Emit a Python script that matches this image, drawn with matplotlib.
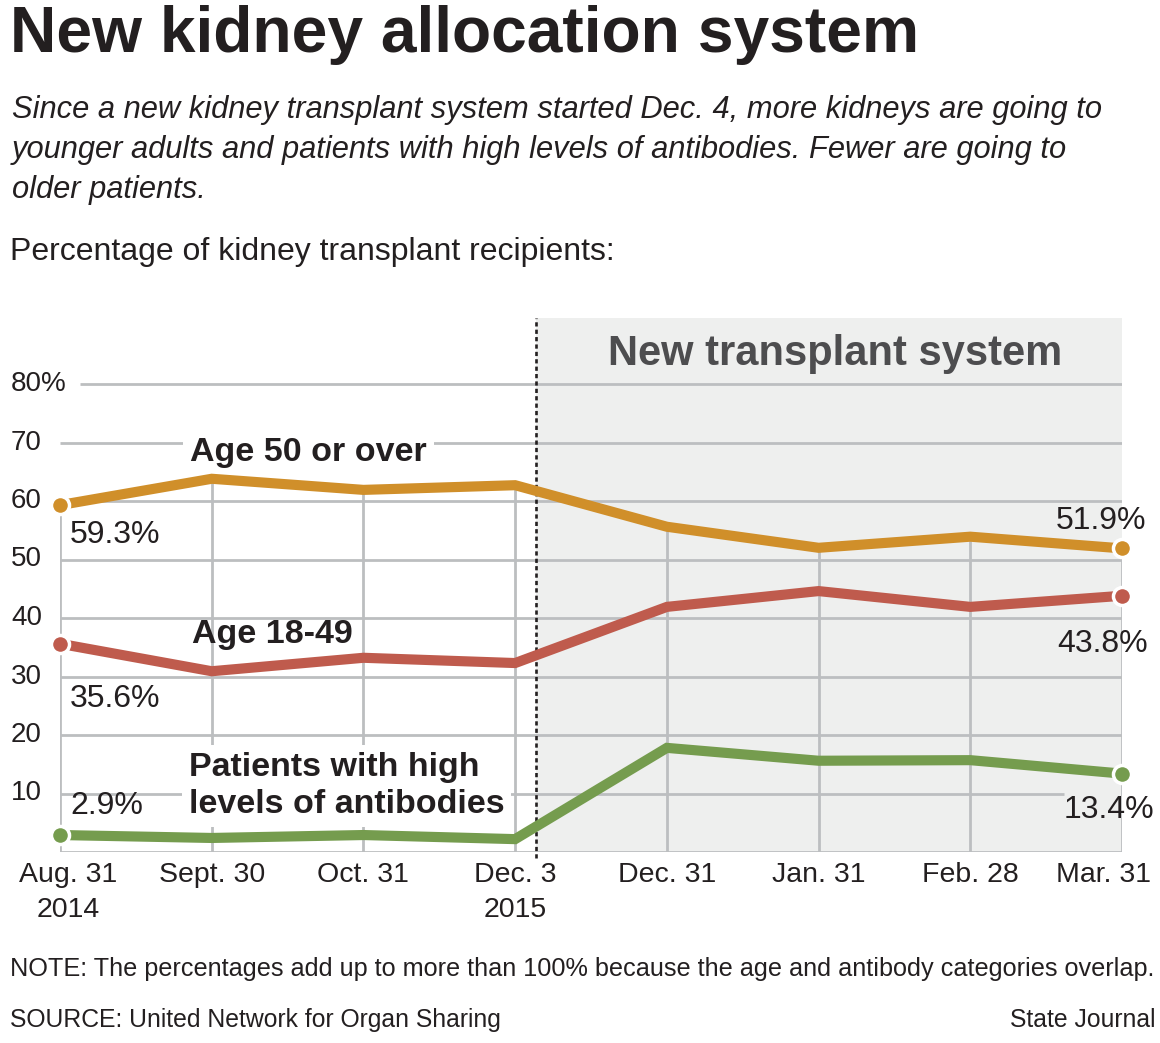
import matplotlib
matplotlib.use("Agg")
import matplotlib.pyplot as plt

W, H = 1160, 1043

# data
dates = ["Aug. 31\n2014", "Sept. 30", "Oct. 31", "Dec. 3\n2015",
         "Dec. 31", "Jan. 31", "Feb. 28", "Mar. 31"]
age_50_over = [59.3, 63.8, 61.9, 62.7, 55.6, 52.0, 53.9, 51.9]
age_18_49 = [35.6, 30.9, 33.2, 32.3, 41.9, 44.6, 41.9, 43.8]
antibodies = [2.9, 2.4, 2.9, 2.2, 17.8, 15.6, 15.7, 13.4]
y_ticks = [10, 20, 30, 40, 50, 60, 70, 80]
y_tick_labels = ["10", "20", "30", "40", "50", "60", "70", "80%"]

TEXT = "#231f20"
GRID = "#bcbec0"
SHADE = "#eeefee"
ORANGE = "#d08f2a"
RED = "#bf5b4d"
GREEN = "#759c4e"
FONT = ["Liberation Sans", "DejaVu Sans"]

plt.rcParams["font.family"] = FONT

fig = plt.figure(figsize=(W / 100, H / 100), dpi=100)
renderer = fig.canvas.get_renderer()


def px(x, y):
    return x / W, 1 - y / H


def ftext(x, y, s, width=None, **kw):
    kw.setdefault("color", TEXT)
    kw.setdefault("va", "baseline")
    t = fig.text(*px(x, y), s, **kw)
    if width:
        bb = t.get_window_extent(renderer)
        t.set_fontsize(t.get_fontsize() * width / bb.width)
    return t


# header
ftext(10, 52, "New kidney allocation system", width=908, fontsize=44, fontweight="bold")
sub = ftext(12, 118, "Since a new kidney transplant system started Dec. 4, more kidneys are going to",
            width=1094, fontsize=24, style="italic")
fs = sub.get_fontsize()
ftext(12, 158, "younger adults and patients with high levels of antibodies. Fewer are going to",
      fontsize=fs, style="italic")
ftext(12, 198, "older patients.", fontsize=fs, style="italic")
ftext(10, 260, "Percentage of kidney transplant recipients:", width=606, fontsize=24)

# plot area: x 0..7 -> px 60..1122, y 0..80 -> px 852..384
top_px, base_px = 318, 852
unit = (852 - 384) / 80
ax = fig.add_axes([60 / W, 1 - base_px / H, (1122 - 60) / W, (base_px - top_px) / H])
ax.set_xlim(0, 7)
ax.set_ylim(0, (base_px - top_px) / unit)
for s in ax.spines.values():
    s.set_visible(False)
ax.patch.set_alpha(0)

split = 3.14  # where the new system starts on the drawing
ax.axvspan(split, 7, color=SHADE, lw=0, zorder=0)
ax.axvline(split, ymin=-0.012, ymax=1, color=TEXT, lw=1.9,
           linestyle=(0, (1.6, 1.2)), zorder=2, clip_on=False)

x = range(len(dates))
grid_start = {80: 0.13}
grid_end = {10: 6.62}
ax.hlines([0] + y_ticks, [grid_start.get(v, 0) for v in [0] + y_ticks],
          [grid_end.get(v, 7) for v in [0] + y_ticks], color=GRID, lw=2, zorder=1)
ax.vlines(x, 0, age_50_over, color=GRID, lw=2, zorder=1)

ylab = matplotlib.transforms.blended_transform_factory(fig.transFigure, ax.transData)
for v, lab in zip(y_ticks, y_tick_labels):
    ax.text(11 / W, v, lab, transform=ylab, ha="left", va="center",
            fontsize=20, color=TEXT)

ax.set_xticks(list(x))
ax.set_xticklabels(dates, fontsize=20.5, color=TEXT, linespacing=1.45)
ax.tick_params(axis="x", length=0, pad=7)
ax.set_yticks([])
labels = ax.get_xticklabels()
labels[0].set_transform(labels[0].get_transform() +
                        matplotlib.transforms.ScaledTranslation(8 / 100, 0, fig.dpi_scale_trans))
labels[-1].set_transform(labels[-1].get_transform() +
                         matplotlib.transforms.ScaledTranslation(-18 / 100, 0, fig.dpi_scale_trans))

fig.text(*px(835, 365), "New transplant system", ha="center", va="baseline",
         fontsize=30, fontweight="bold", color="#4d4d4f")

for vals, col in [(age_50_over, ORANGE), (age_18_49, RED), (antibodies, GREEN)]:
    ax.plot(x, vals, color=col, lw=7.3, solid_joinstyle="miter", marker="o",
            markevery=[0, len(vals) - 1], ms=13, mec="white", mew=2.5,
            zorder=3, clip_on=False)

# end labels
ends = [
    (0, age_50_over[0], (10, -38), "left"),
    (0, age_18_49[0], (10, -63), "left"),
    (0, antibodies[0], (10, 21), "left"),
    (7, age_50_over[-1], (24, 19), "right"),
    (7, age_18_49[-1], (26, -56), "right"),
    (7, antibodies[-1], (32, -44), "right"),
]
for i, v, off, ha in ends:
    ax.annotate(f"{v:.1f}%", (i, v), xytext=off, textcoords="offset pixels",
                ha=ha, va="baseline", fontsize=23, color=TEXT, zorder=4,
                annotation_clip=False)

# series names
ax.text(0.857, 66.8, "Age 50 or over", fontsize=24.5, fontweight="bold", color=TEXT,
        va="baseline", zorder=2.5,
        bbox=dict(boxstyle="square,pad=0.2", fc="white", ec="none"))
ax.text(0.87, 35.7, "Age 18-49", fontsize=24.5, fontweight="bold", color=TEXT,
        va="baseline", zorder=2.5)
ax.text(0.85, 6.7, "Patients with high\nlevels of antibodies", fontsize=24.5,
        fontweight="bold", color=TEXT, va="baseline", linespacing=1.25, zorder=2.5,
        bbox=dict(boxstyle="square,pad=0.2", fc="white", ec="none"))

# footer
ftext(10, 976, "NOTE: The percentages add up to more than 100% because the age and "
      "antibody categories overlap.", width=1145, fontsize=18)
ftext(10, 1027, "SOURCE: United Network for Organ Sharing", fontsize=fs * 0.8)
ftext(1155, 1027, "State Journal", fontsize=fs * 0.8, ha="right")

fig.savefig("out.png", dpi=100)
